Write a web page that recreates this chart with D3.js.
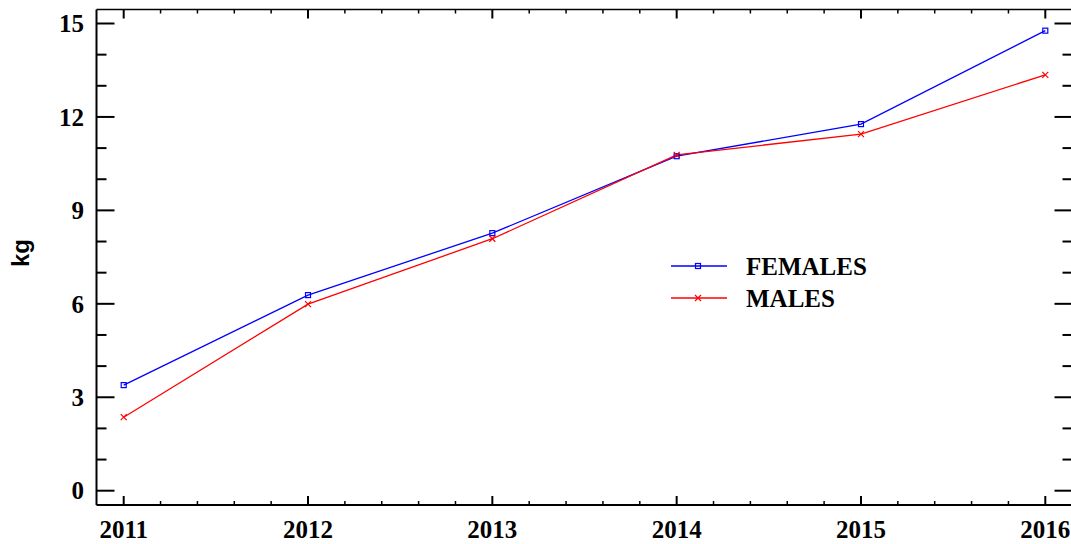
<!DOCTYPE html>
<html><head><meta charset="utf-8">
<script src="https://cdn.jsdelivr.net/npm/d3@7"></script>
<style>body{margin:0;background:#fff}</style>
</head><body>
<svg id="c" width="1071" height="544"></svg>
<script>
const years = [2011, 2012, 2013, 2014, 2015, 2016];
const females = [3.39, 6.28, 8.27, 10.74, 11.77, 14.77];
const males = [2.36, 5.99, 8.09, 10.78, 11.45, 13.35];
const yTicks = [0, 3, 6, 9, 12, 15];
const seriesNames = ["FEMALES", "MALES"];
const seriesColors = ["#0000ff", "#ff0000"];

(function () {
const svg = d3.select("#c");
const x = d3.scaleLinear().domain([2011, 2016]).range([123.7, 1045.3]);
const y = d3.scaleLinear().domain([0, 15]).range([490.7, 23.5]);
const pL = 96.5, pR = 1072.5, pT = 9.5, pB = 505;

const serif = "'Liberation Serif','Times New Roman',serif";

// frame
const g = svg.append("g");
g.append("line").attr("x1", pL).attr("x2", pL).attr("y1", pT).attr("y2", pB).attr("stroke", "#000").attr("stroke-width", 2);
g.append("line").attr("x1", pL).attr("x2", pR).attr("y1", pB).attr("y2", pB).attr("stroke", "#000").attr("stroke-width", 2);
g.append("line").attr("x1", pL).attr("x2", pR).attr("y1", pT).attr("y2", pT).attr("stroke", "#000").attr("stroke-width", 1.5);
g.append("line").attr("x1", pR).attr("x2", pR).attr("y1", pT).attr("y2", pB).attr("stroke", "#000").attr("stroke-width", 2);

// y ticks
const yMinor = d3.range(0, 16).filter(v => !yTicks.includes(v));
yTicks.forEach(v => {
  g.append("line").attr("x1", pL).attr("x2", pL + 18).attr("y1", y(v)).attr("y2", y(v)).attr("stroke", "#000").attr("stroke-width", 2);
  g.append("line").attr("x1", pR - 18).attr("x2", pR).attr("y1", y(v)).attr("y2", y(v)).attr("stroke", "#000").attr("stroke-width", 2);
  g.append("text").attr("x", 84).attr("y", y(v)).attr("dy", "0.35em").attr("text-anchor", "end")
    .attr("font-family", serif).attr("font-weight", "bold").attr("font-size", 25).text(v);
});
yMinor.forEach(v => {
  g.append("line").attr("x1", pL).attr("x2", pL + 10).attr("y1", y(v)).attr("y2", y(v)).attr("stroke", "#000").attr("stroke-width", 2);
  g.append("line").attr("x1", pR - 10).attr("x2", pR).attr("y1", y(v)).attr("y2", y(v)).attr("stroke", "#000").attr("stroke-width", 2);
});

// x ticks
const xMinor = d3.range(2010.8, 2016.3, 0.2).map(v => +v.toFixed(1))
  .filter(v => !years.includes(v) && x(v) > pL + 2 && x(v) < pR - 2);
years.forEach(v => {
  g.append("line").attr("x1", x(v)).attr("x2", x(v)).attr("y1", pB).attr("y2", pB - 9).attr("stroke", "#000").attr("stroke-width", 2);
  g.append("line").attr("x1", x(v)).attr("x2", x(v)).attr("y1", pT).attr("y2", pT + 9).attr("stroke", "#000").attr("stroke-width", 2);
  g.append("text").attr("x", x(v)).attr("y", 538).attr("text-anchor", "middle")
    .attr("font-family", serif).attr("font-weight", "bold").attr("font-size", 25).text(v);
});
xMinor.forEach(v => {
  g.append("line").attr("x1", x(v)).attr("x2", x(v)).attr("y1", pB).attr("y2", pB - 4).attr("stroke", "#000").attr("stroke-width", 1.5);
  g.append("line").attr("x1", x(v)).attr("x2", x(v)).attr("y1", pT).attr("y2", pT + 4).attr("stroke", "#000").attr("stroke-width", 1.5);
});

// y label
svg.append("text").attr("transform", "translate(29,253) rotate(-90)").attr("text-anchor", "middle")
  .attr("font-family", "'Liberation Sans',Arial,sans-serif").attr("font-weight", "bold").attr("font-size", 24).text("kg");

// series
const line = d3.line().x((d, i) => x(years[i])).y(d => y(d));
function drawSquare(sel, cx, cy, color) {
  sel.append("rect").attr("x", cx - 2.5).attr("y", cy - 2.5).attr("width", 5).attr("height", 5)
    .attr("fill", "none").attr("stroke", color).attr("stroke-width", 1.2);
}
function drawCross(sel, cx, cy, color) {
  sel.append("path").attr("d", `M${cx-3},${cy-3}L${cx+3},${cy+3}M${cx-3},${cy+3}L${cx+3},${cy-3}`)
    .attr("stroke", color).attr("stroke-width", 1.2).attr("fill", "none");
}
const data = [females, males];
data.forEach((vals, si) => {
  svg.append("path").datum(vals).attr("d", line).attr("fill", "none").attr("stroke", seriesColors[si]).attr("stroke-width", 1.3);
});
data.forEach((vals, si) => {
  vals.forEach((v, i) => {
    if (si === 0) drawSquare(svg, x(years[i]), y(v), seriesColors[si]);
    else drawCross(svg, x(years[i]), y(v), seriesColors[si]);
  });
});

// legend
const legY = [266, 298];
seriesNames.forEach((n, si) => {
  svg.append("line").attr("x1", 671).attr("x2", 727).attr("y1", legY[si]).attr("y2", legY[si])
    .attr("stroke", seriesColors[si]).attr("stroke-width", 1.3);
  if (si === 0) drawSquare(svg, 698, legY[si], seriesColors[si]);
  else drawCross(svg, 698, legY[si], seriesColors[si]);
  svg.append("text").attr("x", 746).attr("y", legY[si] + 9).attr("font-family", serif)
    .attr("font-weight", "bold").attr("font-size", 25).text(n);
});
})();
</script>
</body></html>
